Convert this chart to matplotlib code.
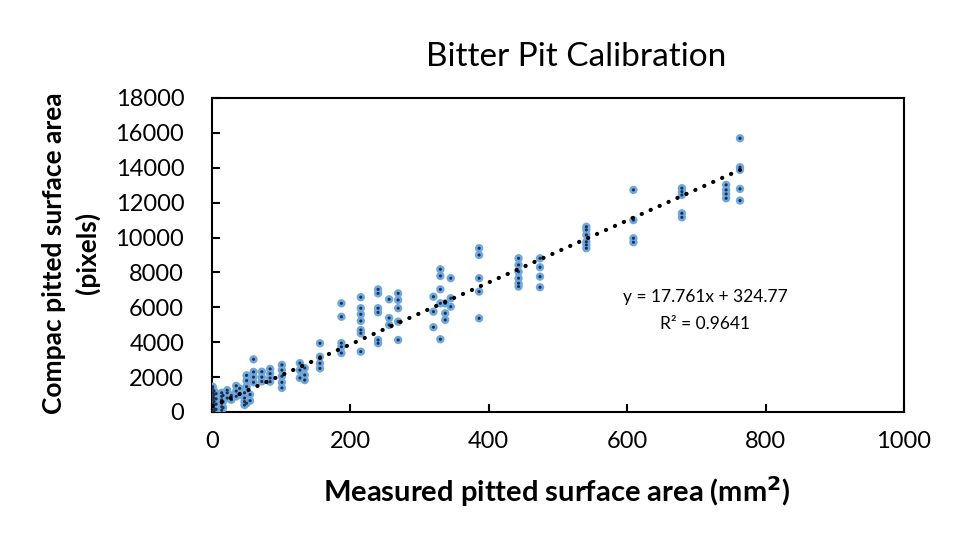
import matplotlib
matplotlib.use("Agg")
import matplotlib.pyplot as plt
import numpy as np

plt.rcParams['font.family'] = ['Lato', 'DejaVu Sans']

# Measured pitted surface area (mm2) and Compac pitted surface area (pixels)
low_x = [1]*8 + [3]*7 + [6]*4 + [14]*6 + [16]*3 + [22]*3 + [28]*2 + [35]*3 + [40]*2 + [47]*4 + [50]*4 + [55]*2
low_y = [100, 300, 500, 700, 900, 1100, 1300, 1450,
         50, 200, 400, 600, 800, 1000, 1200,
         150, 450, 750, 1050,
         100, 300, 500, 700, 900, 1100,
         250, 600, 950,
         800, 1100, 1250,
         700, 950,
         900, 1200, 1500,
         1000, 1350,
         400, 600, 800, 1100,
         1450, 1800, 2100, 500,
         650, 1000]

mid_x = [60]*4 + [72]*3 + [84]*4 + [101]*5 + [127]*3 + [134]*3 + [156]*4
mid_y = [3020, 2300, 2000, 1700,
         2310, 2000, 1750,
         2470, 2200, 1950, 1740,
         2700, 2400, 2050, 1700, 1380,
         2800, 2400, 1950,
         2520, 2120, 1830,
         3940, 3170, 2790, 2500]

high_x = ([187]*5 + [215]*7 + [240]*6 + [256]*3 + [269]*5 + [320]*3 + [330]*5 +
          [337]*3 + [345]*3 + [386]*5 + [443]*6 + [474]*4 + [541]*6 + [609]*4 +
          [679]*5 + [743]*4 + [763]*5)
high_y = [6230, 5460, 3950, 3740, 3380,
          6580, 5950, 5600, 5220, 4700, 4510, 3460,
          7030, 6800, 5950, 5710, 4130, 3940,
          6460, 5390, 4990,
          6800, 6420, 5950, 5180, 4130,
          6610, 5750, 4860,
          8180, 7800, 7030, 6230, 4170,
          6230, 5660, 5280,
          7670, 6520, 6040,
          9390, 9000, 7670, 6900, 5370,
          8810, 8430, 8040, 7670, 7380, 7190,
          8810, 8300, 7760, 7150,
          10620, 10440, 10150, 9760, 9580, 9390,
          12730, 11000, 9960, 9730,
          12830, 12630, 12440, 11390, 11160,
          13020, 12730, 12500, 12250,
          15690, 14030, 13880, 12790, 12120]

slope = 17.761
intercept = 324.77
r_squared = 0.9641

x_ticks = [0, 200, 400, 600, 800, 1000]
y_ticks = [0, 2000, 4000, 6000, 8000, 10000, 12000, 14000, 16000, 18000]

measured = np.array(low_x + mid_x + high_x, dtype=float)
compac = np.array(low_y + mid_y + high_y, dtype=float)

fig = plt.figure(figsize=(9.6, 5.42), dpi=100)
ax = fig.add_axes([212/960, 1 - 412/542, (904-212)/960, (412-98)/542])

ax.scatter(measured, compac, s=36, color='#6FA8DC', edgecolors='none', zorder=3)
ax.scatter(measured, compac, s=5, color='#1F2F4F', edgecolors='none', zorder=4)

xl = np.array([measured.min(), measured.max()])
ax.plot(xl, slope * xl + intercept, color='black', lw=3.0,
        linestyle=(0, (0.05, 2.3)), dash_capstyle='round', zorder=5)

ax.set_xlim(0, 1000)
ax.set_ylim(0, 18000)
ax.set_xticks(x_ticks)
ax.set_yticks(y_ticks)
ax.tick_params(direction='in', length=6, width=1.5, labelsize=17, colors='black')
ax.tick_params(axis='y', pad=20)
ax.tick_params(axis='x', pad=14)
for sp in ax.spines.values():
    sp.set_linewidth(1.5)
    sp.set_color('black')

fig.text(576/960, 1 - 57/542, 'Bitter Pit Calibration', ha='center', va='center', fontsize=24)
fig.text(557/960, 1 - 492/542, 'Measured pitted surface area (mm$^\\mathbf{2}$)', ha='center', va='center',
         fontsize=21, fontweight='bold')
fig.text(71/960, 1 - 253/542, 'Compac pitted surface area\n(pixels)', ha='center', va='center',
         rotation=90, fontsize=19, fontweight='bold', linespacing=1.4)

ax.text(713, (412-297)/0.017444, 'y = 17.761x + 324.77', ha='center', va='center', fontsize=12.5)
ax.text(713, (412-324)/0.017444, 'R² = 0.9641', ha='center', va='center', fontsize=12.5)

fig.savefig('out.png', dpi=100, facecolor='white')
